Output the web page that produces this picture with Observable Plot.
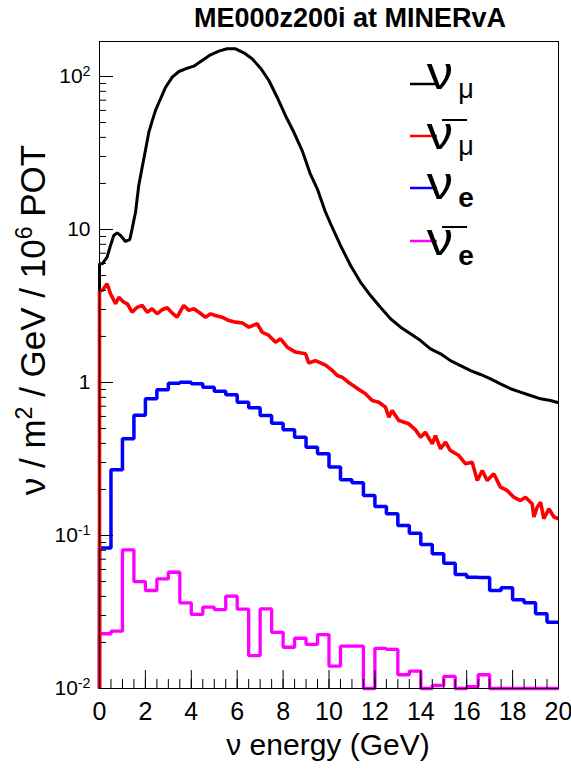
<!DOCTYPE html>
<html>
<head>
<meta charset="utf-8">
<script src="https://cdn.jsdelivr.net/npm/d3@7"></script>
<script src="https://cdn.jsdelivr.net/npm/@observablehq/plot@0.6"></script>
<style>
  body { margin: 0; background: #fff; }
  #chart { width: 571px; height: 770px; }
  svg { font-family: Arial, "Liberation Sans", Helvetica, sans-serif; }
</style>
</head>
<body>
<div id="chart"></div>
<script>
// ---- data ----
// nu_mu (black), fine-binned histogram
const numuEnergy = [0, 0.12, 0.33, 0.48, 0.62, 0.77, 0.92, 1.13, 1.32, 1.42, 1.57, 1.71, 1.86, 2.0, 2.15,
  2.3, 2.44, 2.66, 2.88, 3.17, 3.46, 3.75, 4.11, 4.47, 4.84, 5.2, 5.56, 5.93, 6.29, 6.65,
  7.02, 7.38, 7.74, 8.1, 8.47, 8.83, 9.19, 9.49, 9.82, 10.07, 10.5, 10.94, 11.37, 11.81, 12.24,
  12.68, 13.12, 13.55, 13.99, 14.42, 14.86, 15.29, 15.73, 16.17, 16.6, 17.04, 17.47, 17.91, 18.34, 18.78,
  19.22, 19.65, 20];
const numuFlux = [5.97, 5.97, 6.59, 7.86, 9.14, 9.5, 9.14, 8.35, 8.6, 10.1, 12.97, 19.4, 25.5, 32.8, 43.2,
  51.5, 60, 71.5, 85.1, 99, 107.8, 112.3, 116.8, 127.2, 138.5, 146.4, 151.7, 151.7, 142.8, 130.5,
  113.3, 94.1, 73.2, 55.6, 43.2, 32.8, 23, 18.45, 13.3, 10.9, 7.86, 5.82, 4.53, 3.70, 3.10,
  2.61, 2.30, 2.08, 1.88, 1.66, 1.54, 1.39, 1.29, 1.197, 1.128, 1.057, 0.98, 0.91, 0.865, 0.822,
  0.782, 0.763, 0.737];

// anti nu_mu (red), fine-binned histogram
const numubarEnergy = [0, 0.12, 0.33, 0.48, 0.70, 0.84, 1.06, 1.21, 1.42, 1.64, 1.86, 2.08, 2.29, 2.51, 2.73,
  2.95, 3.17, 3.38, 3.67, 3.89, 4.11, 4.33, 4.62, 4.84, 5.05, 5.34, 5.64, 5.93, 6.22, 6.51,
  6.87, 7.09, 7.38, 7.67, 7.89, 8.18, 8.54, 8.98, 9.12, 9.41, 9.85, 10.14, 10.36, 10.57, 10.86, 11.3,
  11.59, 11.88, 12.17, 12.46, 12.61, 12.75, 13.04, 13.48, 13.77, 13.99, 14.2, 14.5, 14.64, 14.86, 15.08,
  15.29, 15.66, 15.95, 16.24, 16.46, 16.68, 16.89, 17.18, 17.47, 17.76, 18.05, 18.34, 18.56, 18.85, 18.93, 19.07,
  19.22, 19.36, 19.58, 19.8, 20];
const numubarFlux = [3.99, 3.99, 4.42, 3.80, 3.27, 3.61, 3.35, 3.27, 2.88, 3.10, 3.19, 2.88, 3.03, 2.81, 2.99,
  3.08, 2.84, 2.67, 3.19, 2.96, 3.03, 2.88, 2.67, 2.81, 2.74, 2.67, 2.54, 2.48, 2.45, 2.30,
  2.42, 2.13, 2.03, 1.835, 1.93, 1.70, 1.58, 1.54, 1.34, 1.39, 1.30, 1.20, 1.11, 1.083, 1.0, 0.90,
  0.844, 0.763, 0.743, 0.69, 0.593, 0.656, 0.564, 0.537, 0.49, 0.439, 0.473, 0.397, 0.45, 0.369, 0.407,
  0.359, 0.333, 0.294, 0.301, 0.229, 0.266, 0.229, 0.253, 0.207, 0.197, 0.178, 0.169, 0.178, 0.161, 0.132, 0.153,
  0.165, 0.1286, 0.1495, 0.132, 0.1286];

// 0.5 GeV bins for the electron-flavour histograms
const binEdges = [0, 0.5, 1, 1.5, 2, 2.5, 3, 3.5, 4, 4.5, 5, 5.5, 6, 6.5, 7, 7.5, 8, 8.5, 9, 9.5,
  10, 10.5, 11, 11.5, 12, 12.5, 13, 13.5, 14, 14.5, 15, 15.5, 16, 16.5, 17, 17.5, 18, 18.5, 19, 19.5, 20];
const nueFlux = [0.083, 0.2686, 0.4285, 0.6115, 0.782, 0.895, 0.99, 1.005, 0.98, 0.931,
  0.877, 0.831, 0.744, 0.683, 0.608, 0.542, 0.491, 0.439, 0.378, 0.342,
  0.28, 0.231, 0.221, 0.1826, 0.1547, 0.1386, 0.1163, 0.1035, 0.0874, 0.0759,
  0.0659, 0.0556, 0.0534, 0.0531, 0.0437, 0.0455, 0.038, 0.0363, 0.0308, 0.0271];
const nuebarFlux = [0.0228, 0.0237, 0.0806, 0.05, 0.0437, 0.052, 0.0575, 0.0363, 0.0305, 0.034,
  0.0328, 0.0401, 0.033, 0.0164, 0.0331, 0.0233, 0.0186, 0.0213, 0.0194, 0.0225,
  0.014, 0.0189, 0.0189, 0.01, 0.0183, 0.018, 0.0123, 0.013, 0.01, 0.01046,
  0.012, 0.01, 0.0103, 0.0123, 0.01, 0.01, 0.01, 0.01, 0.01, 0.01];

// axes
const xDomain = [0, 20];
const yDomain = [0.01, 169.3];
const xMajorTicks = [0, 2, 4, 6, 8, 10, 12, 14, 16, 18, 20];
const xMinorTicks = d3.range(0, 20.001, 0.5);
const yMajorTicks = [0.01, 0.1, 1, 10, 100];
const yTickLabels = ["10^-2", "10^-1", "1", "10", "10^2"];
const yMinorTicks = [0.02,0.03,0.04,0.05,0.06,0.07,0.08,0.09, 0.2,0.3,0.4,0.5,0.6,0.7,0.8,0.9,
  2,3,4,5,6,7,8,9, 20,30,40,50,60,70,80,90];

// legend entries
const legendColors = ["black", "red", "blue", "magenta"];

// ---- build tables ----
const fine = (xs, ys) => [{x: xs[0], y: yDomain[0]}, ...xs.map((x, i) => ({x, y: ys[i]}))];
const hist = (vals) => [{x: binEdges[0], y: yDomain[0]},
  ...vals.map((v, i) => ({x: binEdges[i], y: v})),
  {x: binEdges[binEdges.length - 1], y: vals[vals.length - 1]}];

const lineOpts = {x: "x", y: "y", strokeLinejoin: "miter", strokeLinecap: "butt"};

const plot = Plot.plot({
  width: 571,
  height: 770,
  marginLeft: 99,
  marginRight: 13,
  marginTop: 41,
  marginBottom: 82,
  x: {domain: xDomain},
  y: {type: "log", domain: yDomain},
  style: {background: "white", color: "black", fontFamily: "Arial, 'Liberation Sans', Helvetica, sans-serif"},
  marks: [
    Plot.line(fine(numuEnergy, numuFlux), {...lineOpts, stroke: "black", strokeWidth: 3}),
    Plot.line(hist(nueFlux), {...lineOpts, curve: "step-after", stroke: "#0000ff", strokeWidth: 3.5}),
    Plot.line(hist(nuebarFlux), {...lineOpts, curve: "step-after", stroke: "#ff00ff", strokeWidth: 3.3}),
    Plot.line(fine(numubarEnergy, numubarFlux), {...lineOpts, stroke: "#ff0000", strokeWidth: 3.6}),
    Plot.frame({stroke: "black", strokeWidth: 1}),
    Plot.axisX({ticks: xMajorTicks, tickSize: 0, tickPadding: 14, fontSize: 25, label: null, tickFormat: d => String(d)}),
    Plot.axisX({ticks: xMajorTicks, tickSize: -18, text: null, label: null}),
    Plot.axisX({ticks: xMinorTicks, tickSize: -9, text: null, label: null}),
    Plot.axisY({ticks: yMajorTicks, tickSize: 0, tickPadding: 9, fontSize: 21, label: null,
      tickFormat: d => yTickLabels[yMajorTicks.indexOf(d)]}),
    Plot.axisY({ticks: yMajorTicks, tickSize: -14, text: null, label: null}),
    Plot.axisY({ticks: yMinorTicks, tickSize: -7, text: null, label: null})
  ]
});

document.getElementById("chart").appendChild(plot);
const svg = d3.select(plot);

// superscripts on y tick labels
svg.selectAll('g[aria-label="y-axis tick label"] text').each(function () {
  const parts = this.textContent.split("^");
  if (parts.length === 2) {
    this.textContent = parts[0];
    d3.select(this).append("tspan").attr("dy", "-0.5em").attr("font-size", "0.68em").text(parts[1]);
  }
});

const fam = "Arial, 'Liberation Sans', Helvetica, sans-serif";
// title
svg.append("text").attr("x", 350).attr("y", 27).attr("text-anchor", "middle")
  .attr("font-family", fam).attr("font-weight", "bold").attr("font-size", 27).attr("fill", "black")
  .text("ME000z200i at MINERvA");

// x label
svg.append("text").attr("x", 328).attr("y", 755).attr("text-anchor", "middle")
  .attr("font-family", fam).attr("font-size", 30).attr("fill", "black")
  .text("ν energy (GeV)");

// y label
const yl = svg.append("text").attr("transform", "translate(45,320) rotate(-90)")
  .attr("text-anchor", "middle").attr("font-family", fam).attr("font-size", 35).attr("fill", "black");
yl.append("tspan").text("ν / m");
yl.append("tspan").attr("dy", -13).attr("font-size", 23).text("2");
yl.append("tspan").attr("dy", 13).text(" / GeV / 10");
yl.append("tspan").attr("dy", -13).attr("font-size", 23).text("6");
yl.append("tspan").attr("dy", 13).text(" POT");

// legend
const rows = [
  {lineY: 84, nuBase: 89, sub: "μ", subBase: 98, bold: false, bar: null},
  {lineY: 136, nuBase: 149, sub: "μ", subBase: 155, bold: false, bar: 120},
  {lineY: 188, nuBase: 199, sub: "e", subBase: 207, bold: true, bar: null},
  {lineY: 241, nuBase: 255, sub: "e", subBase: 265, bold: true, bar: 227}
];
const lg = svg.append("g").attr("font-family", fam).attr("fill", "black");
rows.forEach((r, i) => {
  lg.append("line").attr("x1", 410).attr("x2", 437).attr("y1", r.lineY).attr("y2", r.lineY)
    .attr("stroke", legendColors[i]).attr("stroke-width", 2.5);
  lg.append("text").attr("transform", `translate(440,${r.nuBase}) scale(1.15,1)`)
    .attr("font-size", 46).text("ν");
  lg.append("text").attr("x", 466).attr("y", r.subBase).attr("font-size", r.bold ? 28 : 27)
    .attr("font-weight", r.bold ? "bold" : "normal").text(r.sub);
  if (r.bar !== null) {
    lg.append("line").attr("x1", 442).attr("x2", 467).attr("y1", r.bar).attr("y2", r.bar)
      .attr("stroke", "black").attr("stroke-width", 2);
  }
});
</script>
</body>
</html>
